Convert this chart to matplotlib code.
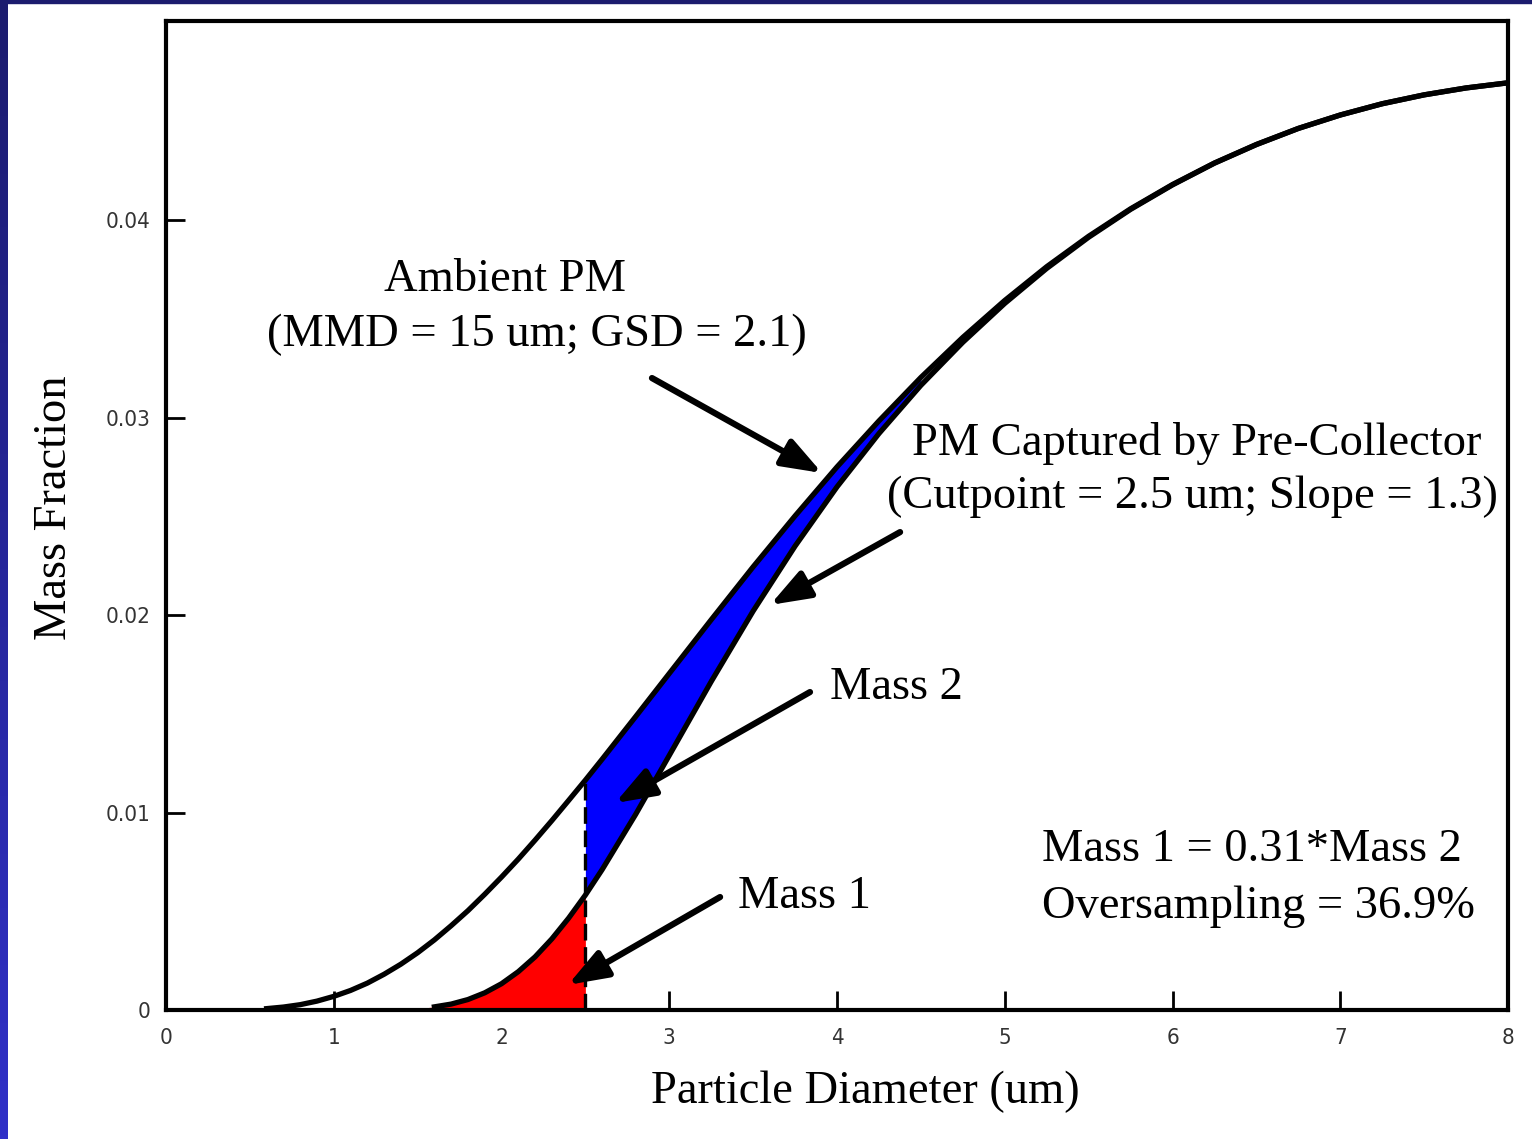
import matplotlib
matplotlib.use('Agg')
import matplotlib.pyplot as plt
import numpy as np
from matplotlib.patches import Rectangle

# values
diam = [0.0, 0.6, 0.7, 0.8, 0.9, 1.0, 1.1, 1.2, 1.3, 1.4, 1.5, 1.6, 1.7, 1.8,
        1.9, 2.0, 2.1, 2.2, 2.3, 2.4, 2.5, 2.6, 2.8, 3.0, 3.25, 3.5, 3.75,
        4.0, 4.25, 4.5, 4.75, 5.0, 5.25, 5.5, 5.75, 6.0, 6.25, 6.5, 6.75,
        7.0, 7.25, 7.5, 7.75, 8.0]
ambient = [0.0, 0.00007, 0.00015, 0.00027, 0.00045, 0.00069, 0.00099, 0.00136,
           0.00181, 0.00232, 0.00290, 0.00355, 0.00427, 0.00503, 0.00586,
           0.00673, 0.00764, 0.00860, 0.00959, 0.01061, 0.01164, 0.01270,
           0.01486, 0.01704, 0.01976, 0.02244, 0.02502, 0.02750, 0.02983,
           0.03203, 0.03406, 0.03593, 0.03764, 0.03918, 0.04057, 0.04180,
           0.04289, 0.04383, 0.04464, 0.04532, 0.04589, 0.04634, 0.04669,
           0.04695]
captured = [0.0, 0.0, 0.0, 0.0, 0.0, 0.0, 0.0, 0.0, 0.0, 0.0, 0.00007,
            0.00016, 0.00030, 0.00053, 0.00087, 0.00133, 0.00194, 0.00269,
            0.00360, 0.00465, 0.00582, 0.00711, 0.00991, 0.01289, 0.01663,
            0.02020, 0.02349, 0.02649, 0.02919, 0.03163, 0.03381, 0.03578,
            0.03755, 0.03913, 0.04054, 0.04178, 0.04288, 0.04382, 0.04464,
            0.04532, 0.04589, 0.04634, 0.04669, 0.04695]
cutpoint = 2.5
x_ticks = [0, 1, 2, 3, 4, 5, 6, 7, 8]
y_ticks = [0, 0.01, 0.02, 0.03, 0.04]
y_labels = ['0', '0.01', '0.02', '0.03', '0.04']

d = np.array(diam)
amb = np.array(ambient)
cap = np.array(captured)

fig = plt.figure(figsize=(15.32, 11.39), dpi=100)
fig.patch.set_facecolor('white')

# slide frame: gradient strip on the left, dark strip on top
grad_ax = fig.add_axes([0, 0, 8/1532, 1])
grad = np.linspace(0, 1, 256).reshape(-1, 1)
top_c = np.array([0x1c, 0x1c, 0x6e]) / 255
bot_c = np.array([0x30, 0x30, 0xc8]) / 255
img = top_c[None, None, :] * (1 - grad[:, :, None]) + bot_c[None, None, :] * grad[:, :, None]
grad_ax.imshow(img, aspect='auto', extent=[0, 1, 0, 1])
grad_ax.axis('off')
fig.patches.append(Rectangle((0, 1 - 3/1139), 1, 3/1139, transform=fig.transFigure,
                             color='#1c1c6e', zorder=5))

ax = fig.add_axes([166/1532, 1 - 1010/1139, 1342/1532, 989/1139])
ax.set_xlim(0, 8)
ax.set_ylim(0, 0.05008)

# shaded masses
ax.fill_between(d, 0, cap, where=(d >= 1.5) & (d <= cutpoint), color='#ff0000',
                linewidth=0, zorder=2)
ax.fill_between(d, cap, amb, where=(d >= cutpoint) & (d <= 4.5), color='#0000ff',
                linewidth=0, zorder=2)

ax.plot(d[d >= 0.6], amb[d >= 0.6], color='black', lw=3.8, zorder=4,
        solid_joinstyle='round')
ax.plot(d[d >= 1.6], cap[d >= 1.6], color='black', lw=3.8, zorder=4,
        solid_joinstyle='round')
ax.vlines(cutpoint, 0, amb[d == cutpoint][0], color='black', lw=2.4,
          linestyles=(0, (5, 2)), zorder=3)

for s in ax.spines.values():
    s.set_linewidth(3)
ax.tick_params(direction='in', length=14, width=2, top=False, right=False,
               labelsize=16, labelcolor='#333333')
ax.tick_params(axis='x', pad=13)
ax.tick_params(axis='y', pad=11)
ax.set_xticks(x_ticks)
ax.set_xticklabels([str(t) for t in x_ticks])
ax.set_yticks(y_ticks)
ax.set_yticklabels(y_labels)
for lab in ax.get_xticklabels() + ax.get_yticklabels():
    lab.set_family(['DejaVu Sans Condensed', 'Liberation Sans Narrow', 'DejaVu Sans'])
    lab.set_fontstretch('condensed')

serif = 'Liberation Serif'
fs = 33.5
ax.text(2.02, 0.03696, 'Ambient PM', family=serif, fontsize=fs, ha='center', va='center')
ax.text(2.21, 0.03418, '(MMD = 15 um; GSD = 2.1)', family=serif, fontsize=fs,
        ha='center', va='center')
ax.text(6.146, 0.02871, 'PM Captured by Pre-Collector', family=serif, fontsize=fs,
        ha='center', va='center')
ax.text(6.116, 0.02597, '(Cutpoint = 2.5 um; Slope = 1.3)', family=serif, fontsize=fs,
        ha='center', va='center')
ax.text(3.958, 0.0163, 'Mass 2', family=serif, fontsize=fs, ha='left', va='center')
ax.text(3.41, 0.00572, 'Mass 1', family=serif, fontsize=fs, ha='left', va='center')
ax.text(5.222, 0.0081, 'Mass 1 = 0.31*Mass 2', family=serif, fontsize=fs,
        ha='left', va='center')
ax.text(5.222, 0.005215, 'Oversampling = 36.9%', family=serif, fontsize=fs,
        ha='left', va='center')

arrows = [((2.897, 0.0320), (3.911, 0.02719)),
          ((4.376, 0.0242), (3.601, 0.02051)),
          ((3.839, 0.0161), (2.677, 0.01048)),
          ((3.303, 0.00572), (2.396, 0.00127))]
for tail, head in arrows:
    ax.annotate('', xy=head, xytext=tail,
                arrowprops=dict(arrowstyle='-|>,head_length=0.6,head_width=0.22',
                                lw=4.5, color='black', mutation_scale=40,
                                shrinkA=0, shrinkB=0), zorder=6)

fig.text(865/1532, 1 - 1092/1139, 'Particle Diameter (um)', family=serif, fontsize=fs,
         ha='center', va='center')
fig.text(55/1532, 1 - 508/1139, 'Mass Fraction', family=serif, fontsize=fs,
         ha='center', va='center', rotation=90)

fig.savefig('out.png', dpi=100)
